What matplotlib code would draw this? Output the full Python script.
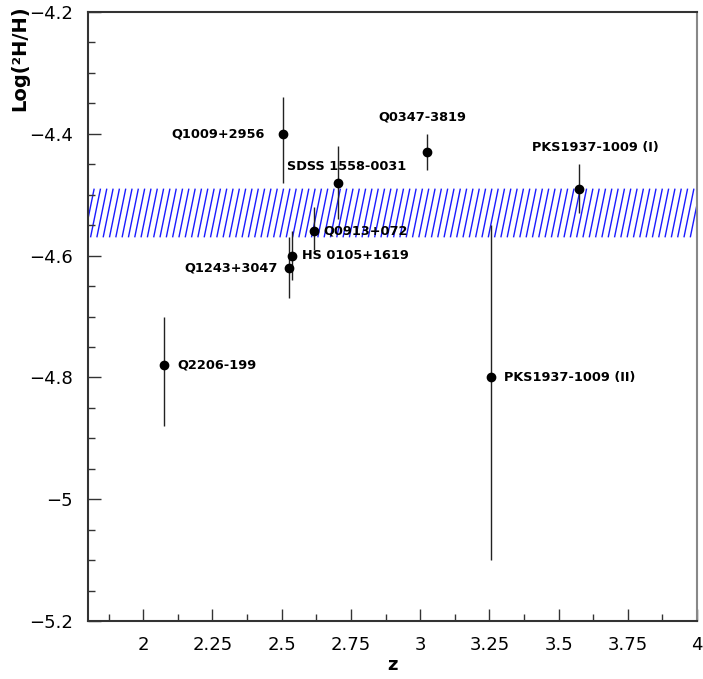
import numpy as np
import matplotlib
matplotlib.use('Agg')
import matplotlib.pyplot as plt
from matplotlib.collections import LineCollection
from matplotlib.ticker import MultipleLocator, FuncFormatter

# measurements: redshift, log(D/H), errors
names = ['Q1009+2956', 'SDSS 1558-0031', 'Q0347-3819', 'Q0913+072',
         'HS 0105+1619', 'Q1243+3047', 'PKS1937-1009 (I)', 'Q2206-199',
         'PKS1937-1009 (II)']
z = [2.504, 2.703, 3.025, 2.618, 2.536, 2.526, 3.572, 2.076, 3.256]
logdh = [-4.40, -4.48, -4.43, -4.56, -4.60, -4.62, -4.49, -4.78, -4.80]
err_up = [0.06, 0.06, 0.03, 0.04, 0.04, 0.05, 0.04, 0.08, 0.25]
err_lo = [0.08, 0.06, 0.03, 0.03, 0.04, 0.05, 0.04, 0.10, 0.30]

# label offsets in pixels (dx, dy, ha)
label_pos = [(-18, 0, 'right'), (-51, 16, 'left'), (-49, 35, 'left'),
             (9, 0, 'left'), (10, 0, 'left'), (-11, 0, 'right'),
             (-47, 41, 'left'), (13, 0, 'left'), (13, 0, 'left')]

# mean value band
band_lo = -4.57
band_hi = -4.49

xmin, xmax = 1.8, 4.0
ymin, ymax = -5.2, -4.2

fig = plt.figure(figsize=(7.03, 6.79), dpi=100)
ax = fig.add_axes([0.125, 0.0854, 0.8665, 0.8969])

# hatched band drawn as steep blue lines
spacing = 0.0228
run = 0.036
starts = np.arange(xmin - run, xmax + spacing, spacing)
segs = [[(s, band_lo), (s + run, band_hi)] for s in starts]
lc = LineCollection(segs, colors='#1a1aff', linewidths=1.0, zorder=1)
ax.add_collection(lc)

ax.errorbar(z, logdh, yerr=[err_lo, err_up], fmt='o', color='black',
            ecolor='#222222', elinewidth=1.0, capsize=0, markersize=6, zorder=3)

for n, x, y, (dx, dy, ha) in zip(names, z, logdh, label_pos):
    ax.annotate(n, (x, y), xytext=(dx * 0.72, dy * 0.72), textcoords='offset points',
                ha=ha, va='center', fontsize=9.3, fontweight='bold', zorder=4)

ax.set_xlim(xmin, xmax)
ax.set_ylim(ymin, ymax)

ax.xaxis.set_major_locator(MultipleLocator(0.25))
ax.xaxis.set_minor_locator(MultipleLocator(0.125))
ax.yaxis.set_major_locator(MultipleLocator(0.2))
ax.yaxis.set_minor_locator(MultipleLocator(0.05))
fmt = FuncFormatter(lambda v, p: '{:g}'.format(round(v, 3)).replace('-', '\u2212'))
ax.xaxis.set_major_formatter(fmt)
ax.yaxis.set_major_formatter(fmt)

ax.tick_params(which='both', direction='in', top=False, right=False, color='#333333')
ax.tick_params(which='major', length=9, width=1.0, labelsize=13)
ax.tick_params(axis='x', which='major', pad=11)
ax.tick_params(axis='y', which='major', pad=11)
ax.tick_params(which='minor', length=5, width=1.0)

for sp in ax.spines.values():
    sp.set_linewidth(1.5)
    sp.set_color('#333333')
ax.spines['right'].set_color('#888888')

ax.set_xlabel('z', fontsize=13, fontweight='bold', labelpad=1)
fig.text(0.028, 0.992, 'Log(\u00b2H/H)', rotation=90, ha='center', va='top',
         fontsize=14, fontweight='bold')

fig.savefig('out.png', dpi=100)
